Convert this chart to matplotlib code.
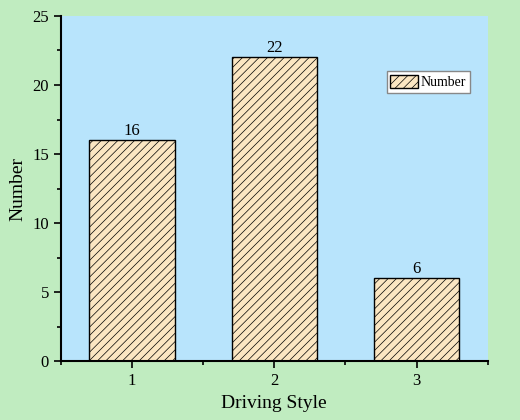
import matplotlib.pyplot as plt
from matplotlib.ticker import MultipleLocator

plt.rcParams['font.family'] = ['Liberation Serif', 'DejaVu Serif']
plt.rcParams['hatch.linewidth'] = 0.5
plt.rcParams['hatch.color'] = '#666666'

styles = [1, 2, 3]
counts = [16, 22, 6]
series_name = 'Number'

fig = plt.figure(figsize=(5.2, 4.2), dpi=100, facecolor='#c0ecc0')
ax = fig.add_axes([0.117, 0.140, 0.821, 0.822])
ax.set_facecolor('#b8e4fc')

bars = ax.bar(styles, counts, width=0.6, color='#fbe6c2', edgecolor='black',
              linewidth=1.0, hatch='////', label=series_name)
ax.bar_label(bars, labels=[str(c) for c in counts], padding=1, fontsize=12)

ax.set_xlim(0.5, 3.5)
ax.set_ylim(0, 25)
ax.set_xticks(styles)
ax.xaxis.set_minor_locator(MultipleLocator(0.5))
ax.yaxis.set_major_locator(MultipleLocator(5))
ax.yaxis.set_minor_locator(MultipleLocator(2.5))
ax.tick_params(which='major', direction='out', length=5, width=1.2, labelsize=12)
ax.tick_params(which='minor', direction='out', length=3, width=1.2)
ax.spines['top'].set_visible(False)
ax.spines['right'].set_visible(False)
ax.spines['left'].set_linewidth(1.5)
ax.spines['bottom'].set_linewidth(1.5)

ax.set_xlabel('Driving Style', fontsize=14)
ax.set_ylabel('Number', fontsize=14)

leg = ax.legend(loc='upper right', bbox_to_anchor=(0.958, 0.84), fontsize=10,
                fancybox=False, framealpha=1, edgecolor='#888888',
                handlelength=2.0, handleheight=1.1, handletextpad=0.2,
                borderpad=0.25, borderaxespad=0)

fig.savefig('out.png', dpi=100, facecolor=fig.get_facecolor())
